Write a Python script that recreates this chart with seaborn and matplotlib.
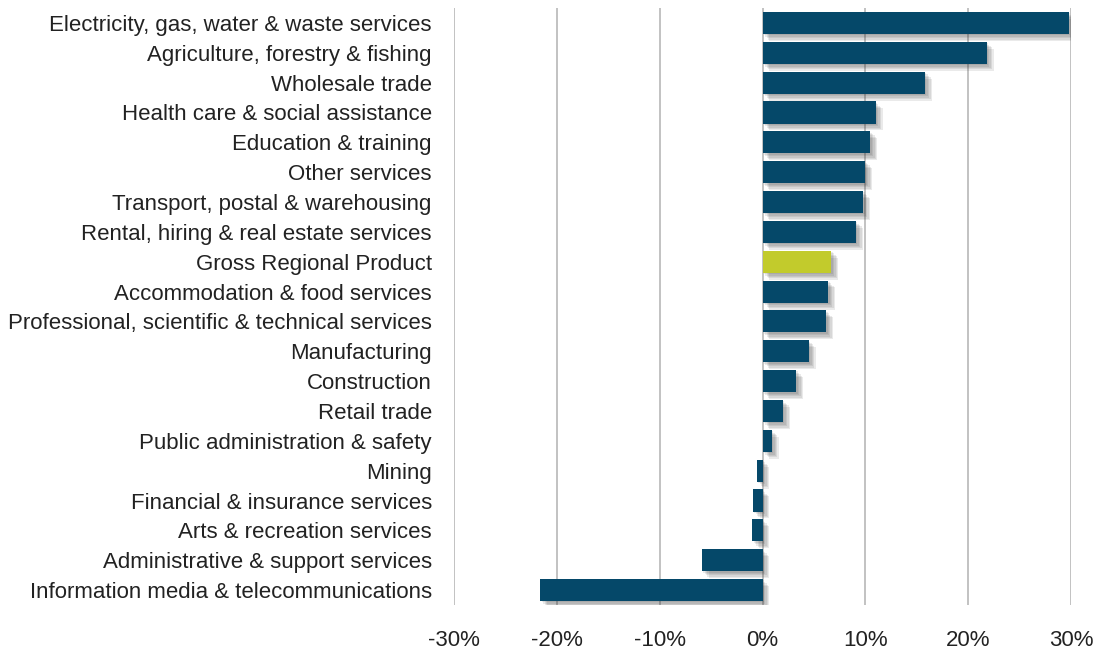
import pandas as pd
import seaborn as sns
import matplotlib.pyplot as plt
import matplotlib.patheffects as pe
from matplotlib.ticker import FuncFormatter

industries = [
    "Electricity, gas, water & waste services",
    "Agriculture, forestry & fishing",
    "Wholesale trade",
    "Health care & social assistance",
    "Education & training",
    "Other services",
    "Transport, postal & warehousing",
    "Rental, hiring & real estate services",
    "Gross Regional Product",
    "Accommodation & food services",
    "Professional, scientific & technical services",
    "Manufacturing",
    "Construction",
    "Retail trade",
    "Public administration & safety",
    "Mining",
    "Financial & insurance services",
    "Arts & recreation services",
    "Administrative & support services",
    "Information media & telecommunications",
]
growth = [29.8, 21.8, 15.8, 11.0, 10.5, 10.0, 9.8, 9.1, 6.7, 6.4,
          6.2, 4.5, 3.3, 2.0, 0.9, -0.55, -0.95, -1.0, -5.9, -21.6]
ticks = [-30, -20, -10, 0, 10, 20, 30]

df = pd.DataFrame({"Industry": industries, "Growth": growth})
colors = ["#C2CB2C" if n == "Gross Regional Product" else "#054869" for n in industries]

sns.set_style("white")
plt.rcParams['font.family'] = ['Liberation Sans', 'DejaVu Sans']

fig = plt.figure(figsize=(10.97, 6.51), dpi=100)
ax = fig.add_axes([0.4139, 0.0707, 0.5624, 0.917])

sns.barplot(data=df, y="Industry", x="Growth", hue="Industry", palette=colors,
            legend=False, width=0.74, ax=ax, saturation=1, linewidth=0, edgecolor="none")

# soft drop shadow built from a few faint offset copies
shadow = [pe.SimplePatchShadow(offset=(d, -d), shadow_rgbFace="#333333", alpha=0.10)
          for d in (1, 2, 3, 4, 5)]
for p in ax.patches:
    p.set_path_effects(shadow + [pe.Normal()])

ax.set_xlim(-30, 30)
ax.set_ylim(19.5, -0.5)
ax.set_xticks(ticks)
ax.xaxis.set_major_formatter(FuncFormatter(lambda v, _: f"{v:.0f}%"))
for t in ticks:
    ax.axvline(t, color="#BDBDBD", lw=1.3, zorder=0)
for s in ax.spines.values():
    s.set_visible(False)

ax.set_xlabel("")
ax.set_ylabel("")
ax.tick_params(axis="x", length=0, pad=18, labelsize=16, labelcolor="#222222")
ax.tick_params(axis="y", length=0, pad=16, labelsize=16, labelcolor="#222222")

fig.savefig("out.png", dpi=100)
